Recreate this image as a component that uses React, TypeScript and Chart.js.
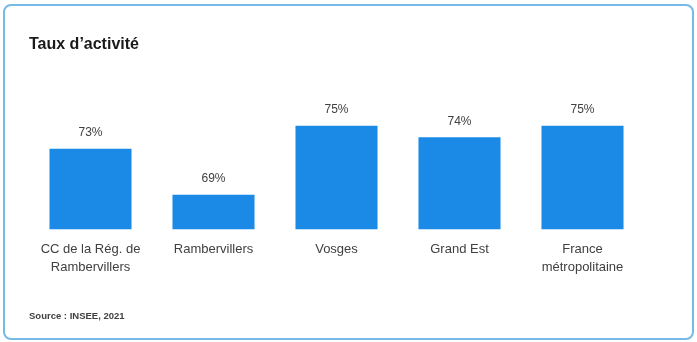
import React, { useEffect, useRef } from "react";
import { Chart, registerables } from "chart.js";

Chart.register(...registerables);

const categories: (string | string[])[] = [
  ["CC de la Rég. de", "Rambervillers"],
  "Rambervillers",
  "Vosges",
  "Grand Est",
  ["France", "métropolitaine"],
];
const activityRates = [73, 69, 75, 74, 75];
const valueLabels = ["73%", "69%", "75%", "74%", "75%"];
const titleText = "Taux d’activité";
const sourceText = "Source : INSEE, 2021";

const FONT = "'Liberation Sans', Arial, sans-serif";

const valueLabelPlugin = {
  id: "valueLabels",
  afterDatasetsDraw(chart: any) {
    const ctx = chart.ctx;
    const meta = chart.getDatasetMeta(0);
    ctx.save();
    ctx.font = `12px ${FONT}`;
    ctx.fillStyle = "#404040";
    ctx.textAlign = "center";
    ctx.textBaseline = "middle";
    meta.data.forEach((bar: any, i: number) => {
      ctx.fillText(valueLabels[i], bar.x, bar.y - 16);
    });
    ctx.restore();
  },
};

export default function App() {
  const canvasRef = useRef<HTMLCanvasElement | null>(null);

  useEffect(() => {
    if (!canvasRef.current) return;
    const chart = new Chart(canvasRef.current, {
      type: "bar",
      data: {
        labels: categories,
        datasets: [
          {
            data: activityRates,
            backgroundColor: "#1a8ae6",
            borderWidth: 0,
            barPercentage: 0.667,
            categoryPercentage: 1,
          },
        ],
      },
      options: {
        animation: false,
        responsive: false,
        maintainAspectRatio: false,
        layout: { padding: { left: 29, right: 53, top: 0, bottom: 0 } },
        plugins: {
          legend: { display: false },
          tooltip: { enabled: false },
          title: {
            display: true,
            text: titleText,
            align: "start",
            color: "#1a1a1a",
            font: { family: FONT, size: 16, weight: "bold" },
            padding: { top: 35, bottom: 14 },
          },
          subtitle: {
            display: true,
            text: sourceText,
            position: "bottom",
            align: "start",
            color: "#404040",
            font: { family: FONT, size: 9.5, weight: "bold" },
            padding: { top: 31, bottom: 20 },
          },
        },
        scales: {
          x: {
            grid: { display: false },
            border: { display: false },
            ticks: {
              color: "#404040",
              font: { family: FONT, size: 13, lineHeight: 1.4 },
              padding: 3,
              maxRotation: 0,
              autoSkip: false,
            },
          },
          y: {
            display: false,
            min: 66,
            max: 80,
          },
        },
      },
      plugins: [valueLabelPlugin],
    });
    return () => chart.destroy();
  }, []);

  return (
    <div
      style={{
        position: "fixed",
        left: 0,
        top: 0,
        width: 697,
        height: 342,
        background: "#ffffff",
      }}
    >
      <div
        style={{
          position: "absolute",
          left: 3,
          top: 4,
          width: 687,
          height: 332,
          border: "2px solid #74bbe9",
          borderRadius: 8,
        }}
      />
      <canvas
        ref={canvasRef}
        width={697}
        height={342}
        style={{ position: "absolute", left: 0, top: 0 }}
      />
    </div>
  );
}
